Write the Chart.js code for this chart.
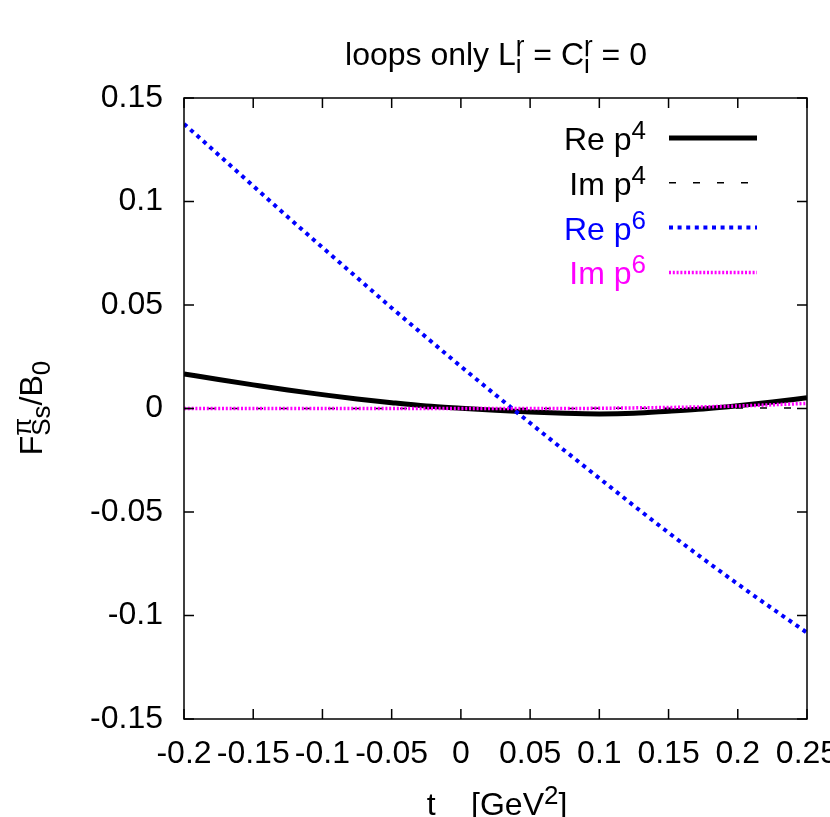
<!DOCTYPE html>
<html>
<head>
<meta charset="utf-8">
<script src="https://cdn.jsdelivr.net/npm/chart.js@4.4.1/dist/chart.umd.min.js"></script>
<style>
html, body { margin: 0; padding: 0; background: #fff; }
canvas { display: block; }
</style>
</head>
<body>
<canvas id="fsChart" width="830" height="817"></canvas>
<script>
// t in GeV^2
const tValues = [-0.2, -0.175, -0.15, -0.125, -0.1, -0.075, -0.05, -0.025, 0, 0.025,
                 0.05, 0.075, 0.1, 0.125, 0.15, 0.175, 0.2, 0.225, 0.25];

// F_Ss / B0, loops only
const reP4 = [0.0167, 0.0140, 0.0114, 0.0089, 0.0067, 0.0046, 0.0028, 0.0012, 0.0001, -0.0009,
              -0.0017, -0.0023, -0.0026, -0.0023, -0.0013, -0.0002, 0.0013, 0.0031, 0.0052];
const imP4 = [0, 0, 0, 0, 0, 0, 0, 0, 0, 0,
              0, 0, 0.0001, 0.0001, 0.0001, 0.0002, 0.0002, 0.0002, 0.0003];
const reP6 = [0.1375, 0.1225, 0.1075, 0.0925, 0.0778, 0.0632, 0.0486, 0.0344, 0.0203, 0.0066,
              -0.0070, -0.0204, -0.0337, -0.0470, -0.0600, -0.0726, -0.0848, -0.0967, -0.1083];
const imP6 = [0, 0, 0, 0, 0, 0, 0, 0, 0, 0,
              0, 0, 0.0001, 0.0003, 0.0005, 0.0008, 0.0012, 0.0018, 0.0025];

const xTicks = [-0.2, -0.15, -0.1, -0.05, 0, 0.05, 0.1, 0.15, 0.2, 0.25];
const yTicks = [-0.15, -0.1, -0.05, 0, 0.05, 0.1, 0.15];

const seriesLabels = [["Re p", "4"], ["Im p", "4"], ["Re p", "6"], ["Im p", "6"]];

const FONT = '"Liberation Sans", Arial, Helvetica, sans-serif';
const BIG = 32;
const SMALL = 26;

function toPoints(vals) {
  return tValues.map((t, i) => ({ x: t, y: vals[i] }));
}

// testo con apici e pedici (stile gnuplot)
function partWidth(ctx, p) {
  if (typeof p === "string") {
    ctx.font = BIG + "px " + FONT;
    return ctx.measureText(p).width;
  }
  ctx.font = SMALL + "px " + FONT;
  const a = p.sup ? ctx.measureText(p.sup).width : 0;
  const b = p.sub ? ctx.measureText(p.sub).width : 0;
  return Math.max(a, b);
}

function drawRich(ctx, parts, x, y, align, color) {
  let w = 0;
  parts.forEach(p => { w += partWidth(ctx, p); });
  let cx = x;
  if (align === "center") cx = x - w / 2;
  if (align === "right") cx = x - w;
  ctx.fillStyle = color;
  ctx.textAlign = "left";
  ctx.textBaseline = "alphabetic";
  parts.forEach(p => {
    const pw = partWidth(ctx, p);
    if (typeof p === "string") {
      ctx.font = BIG + "px " + FONT;
      ctx.fillText(p, cx, y);
    } else {
      ctx.font = SMALL + "px " + FONT;
      if (p.sup) ctx.fillText(p.sup, cx, y - 11);
      if (p.sub) ctx.fillText(p.sub, cx, y + 8);
    }
    cx += pw;
  });
}

const datasets = [
  { label: "Re p4", data: toPoints(reP4), borderColor: "#000000", borderWidth: 5, order: 4 },
  { label: "Im p4", data: toPoints(imP4), borderColor: "#000000", borderWidth: 1.5, borderDash: [7, 17], order: 3 },
  { label: "Re p6", data: toPoints(reP6), borderColor: "#0000ff", borderWidth: 4, borderDash: [4, 4.6], order: 2 },
  { label: "Im p6", data: toPoints(imP6), borderColor: "#ff00ff", borderWidth: 3.5, borderDash: [2, 1.8], order: 1 }
];
datasets.forEach(d => {
  d.pointRadius = 0;
  d.fill = false;
  d.cubicInterpolationMode = "monotone";
  d.borderCapStyle = "butt";
});

const legendColors = ["#000000", "#000000", "#0000ff", "#ff00ff"];

const gnuplotDecor = {
  id: "gnuplotDecor",
  afterDraw(chart) {
    const ctx = chart.ctx;
    const area = chart.chartArea;
    const xs = chart.scales.x;
    const ys = chart.scales.y;
    ctx.save();

    // cornice e tacche interne
    ctx.strokeStyle = "#000";
    ctx.lineWidth = 1.5;
    ctx.strokeRect(area.left, area.top, area.right - area.left, area.bottom - area.top);
    ctx.beginPath();
    xTicks.forEach(v => {
      const px = xs.getPixelForValue(v);
      ctx.moveTo(px, area.bottom); ctx.lineTo(px, area.bottom - 10);
      ctx.moveTo(px, area.top); ctx.lineTo(px, area.top + 10);
    });
    yTicks.forEach(v => {
      const py = ys.getPixelForValue(v);
      ctx.moveTo(area.left, py); ctx.lineTo(area.left + 10, py);
      ctx.moveTo(area.right, py); ctx.lineTo(area.right - 10, py);
    });
    ctx.stroke();

    // legenda
    seriesLabels.forEach((lab, i) => {
      const ly = 138 + i * 44.8;
      drawRich(ctx, [lab[0], { sup: lab[1] }], 646, ly + 12, "right", legendColors[i]);
      const ds = datasets[i];
      ctx.beginPath();
      ctx.strokeStyle = ds.borderColor;
      ctx.lineWidth = ds.borderWidth;
      ctx.setLineDash(ds.borderDash || []);
      ctx.lineCap = "butt";
      ctx.moveTo(669, ly);
      ctx.lineTo(757, ly);
      ctx.stroke();
      ctx.setLineDash([]);
    });

    // titoli
    drawRich(ctx, ["loops only L", { sup: "r", sub: "i" }, " = C", { sup: "r", sub: "i" }, " = 0"],
      496, 65, "center", "#000");
    drawRich(ctx, ["t    [GeV", { sup: "2" }, "]"], 497, 815, "center", "#000");

    ctx.translate(42, 408);
    ctx.rotate(-Math.PI / 2);
    drawRich(ctx, ["F", { sup: "\u03c0", sub: "Ss" }, "/B", { sub: "0" }], 0, 0, "center", "#000");

    ctx.restore();
  }
};

new Chart(document.getElementById("fsChart"), {
  type: "line",
  data: { datasets: datasets },
  options: {
    responsive: false,
    animation: false,
    events: [],
    layout: { padding: { top: 98, right: 23, left: 0, bottom: 0 } },
    plugins: { legend: { display: false }, tooltip: { enabled: false }, title: { display: false } },
    scales: {
      x: {
        type: "linear",
        min: -0.2,
        max: 0.25,
        grid: { display: false, drawTicks: false },
        border: { display: false },
        afterBuildTicks: s => { s.ticks = xTicks.map(v => ({ value: v })); },
        afterFit: s => { s.height = 98; s.paddingLeft = 0; s.paddingRight = 0; },
        ticks: {
          autoSkip: false,
          maxRotation: 0,
          minRotation: 0,
          padding: 16,
          color: "#000",
          font: { family: FONT, size: BIG },
          callback: v => String(Math.round(v * 100) / 100)
        }
      },
      y: {
        type: "linear",
        min: -0.15,
        max: 0.15,
        grid: { display: false, drawTicks: false },
        border: { display: false },
        afterBuildTicks: s => { s.ticks = yTicks.map(v => ({ value: v })); },
        afterFit: s => { s.width = 184; s.paddingTop = 0; s.paddingBottom = 0; },
        ticks: {
          padding: 21,
          color: "#000",
          font: { family: FONT, size: BIG },
          callback: v => String(Math.round(v * 100) / 100)
        }
      }
    }
  },
  plugins: [gnuplotDecor]
});
</script>
</body>
</html>
